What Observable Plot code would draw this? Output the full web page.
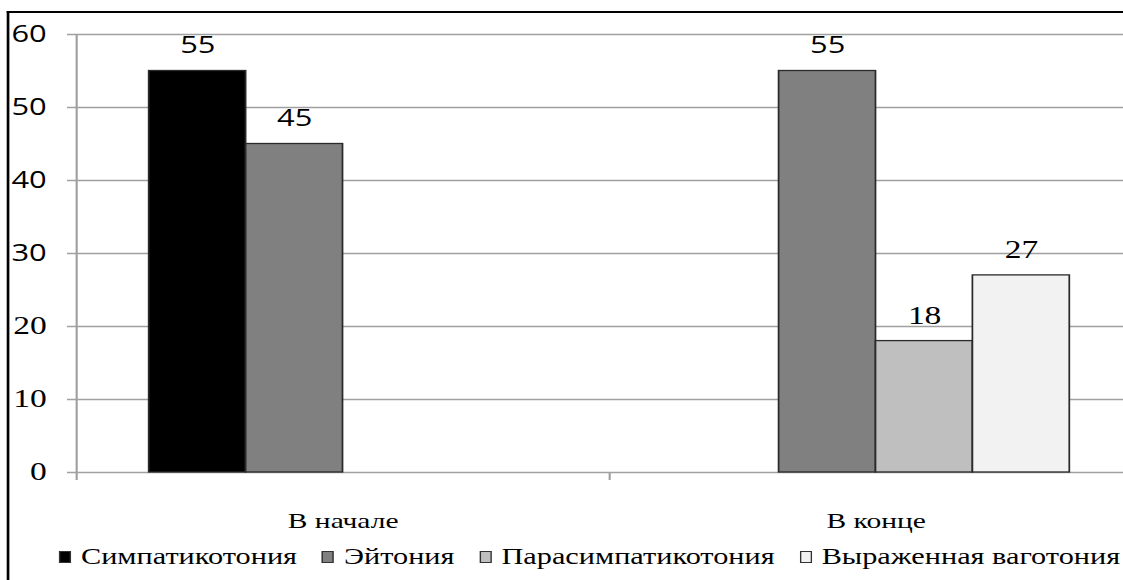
<!DOCTYPE html>
<html>
<head>
<meta charset="utf-8">
<script src="https://cdn.jsdelivr.net/npm/d3@7"></script>
<script src="https://cdn.jsdelivr.net/npm/@observablehq/plot@0.6"></script>
<style>
  html, body { margin: 0; padding: 0; background: #fff; overflow: hidden; }
  #page { position: relative; width: 1123px; height: 580px; overflow: hidden; background: #fff; }
  #stretch { position: absolute; left: 0; top: 0; transform-origin: 0 0; }
  #frame { position: absolute; border-left: 2px solid #000; border-top: 2.5px solid #000; }
  #legend { position: absolute; display: flex; align-items: center; white-space: nowrap;
            font-family: "Liberation Serif", "DejaVu Serif", serif; font-size: 22.6px; color: #000; }
  .item { display: flex; align-items: center; }
  .sw { display: inline-block; box-sizing: border-box; border: 1.3px solid #333; }
  #chart svg { max-width: none !important; }
</style>
</head>
<body>
<div id="page"><div id="stretch"><div id="frame"></div><div id="chart"></div><div id="legend"></div></div></div>
<script>
// ---- data ----
const groups = ["В начале", "В конце"];
const series = ["Симпатикотония", "Эйтония", "Парасимпатикотония", "Выраженная ваготония"];
const seriesColors = ["#000000", "#808080", "#bfbfbf", "#f2f2f2"];
const valuesStart = [55, 45, null, null];
const valuesEnd = [null, 55, 18, 27];
const yTicks = [0, 10, 20, 30, 40, 50, 60];

// ---- layout ----
const S = 1.34;              // horizontal stretch of the original picture
const gapWidth = 1.5;        // Excel-like gap width (150%)
const slots = series.length + gapWidth;
const serif = "Liberation Serif, DejaVu Serif, serif";
const sans = "Open Sans, Noto Sans, sans-serif";

const rows = [];
[valuesStart, valuesEnd].forEach((vals, gi) =>
  vals.forEach((v, si) => { if (v != null) rows.push({group: groups[gi], gi, series: series[si], si, value: v}); }));

const barX1 = d => d.gi + (gapWidth / 2 + d.si) / slots;
const barX2 = d => d.gi + (gapWidth / 2 + d.si + 1) / slots;
const barXc = d => d.gi + (gapWidth / 2 + d.si + 0.5) / slots;

const stretch = document.getElementById("stretch");
stretch.style.transform = `scaleX(${S})`;
stretch.style.width = (1142 / S) + "px";
stretch.style.height = "580px";

const frame = document.getElementById("frame");
frame.style.left = (7 / S) + "px";
frame.style.top = "10.5px";
frame.style.width = "2000px";
frame.style.height = "1000px";

const grid = "#a0a0a0";
const chart = Plot.plot({
  width: 1142 / S,
  height: 540,
  marginLeft: 76 / S,
  marginRight: 0,
  marginTop: 34,
  marginBottom: 68,
  style: {background: "transparent", color: "#000", overflow: "visible", maxWidth: "none"},
  x: {type: "linear", domain: [0, groups.length], axis: null},
  y: {domain: [0, 60], axis: null},
  color: {domain: series, range: seriesColors},
  marks: [
    Plot.ruleY(yTicks, {y: d => d, stroke: grid, strokeWidth: 1.6, insetLeft: -9 / S}),
    Plot.ruleX([0], {x: d => d, stroke: grid, strokeWidth: 1.6, insetBottom: -8}),
    Plot.ruleX(d3.range(1, groups.length + 1), {x: d => d, y1: 0, y2: 0, stroke: grid, strokeWidth: 1.6, insetBottom: -8}),
    Plot.rect(rows, {x1: barX1, x2: barX2, y1: 0, y2: "value", fill: "series", stroke: "#2a2a2a", strokeWidth: 1.3}),
    Plot.text(rows.filter(d => d.value >= 40), {x: barXc, y: "value", text: d => String(d.value), dy: -25,
      fontFamily: sans, fontSize: 23, fill: "#000"}),
    Plot.text(rows.filter(d => d.value < 40), {x: barXc, y: "value", text: d => String(d.value), dy: -25,
      fontFamily: serif, fontSize: 25, fill: "#000"}),
    Plot.text(yTicks.filter(t => t >= 30), {x: 0, y: d => d, text: d => String(d), textAnchor: "end", dx: -30 / S,
      fontFamily: sans, fontSize: 23, fill: "#000"}),
    Plot.text(yTicks.filter(t => t < 30), {x: 0, y: d => d, text: d => String(d), textAnchor: "end", dx: -30 / S,
      fontFamily: serif, fontSize: 25, fill: "#000"}),
    Plot.text(groups, {x: (d, i) => i + 0.5, y: 0, text: d => d, dy: 48, fontFamily: serif, fontSize: 22, fill: "#000"})
  ]
});
const chartDiv = document.getElementById("chart");
chartDiv.style.position = "absolute";
chartDiv.style.left = "0px";
chartDiv.style.top = "0px";
chartDiv.appendChild(chart);

// ---- legend (below the SVG) ----
const legend = document.getElementById("legend");
legend.style.left = (59 / S) + "px";
legend.style.top = "540px";
legend.style.height = "34px";
series.forEach((name, i) => {
  const item = document.createElement("div");
  item.className = "item";
  if (i > 0) item.style.marginLeft = (25 / S) + "px";
  const sw = document.createElement("span");
  sw.className = "sw";
  sw.style.width = (12 / S) + "px";
  sw.style.height = "12px";
  sw.style.background = seriesColors[i];
  sw.style.marginRight = (10 / S) + "px";
  const label = document.createElement("span");
  label.textContent = name;
  item.appendChild(sw);
  item.appendChild(label);
  legend.appendChild(item);
});
</script>
</body>
</html>
